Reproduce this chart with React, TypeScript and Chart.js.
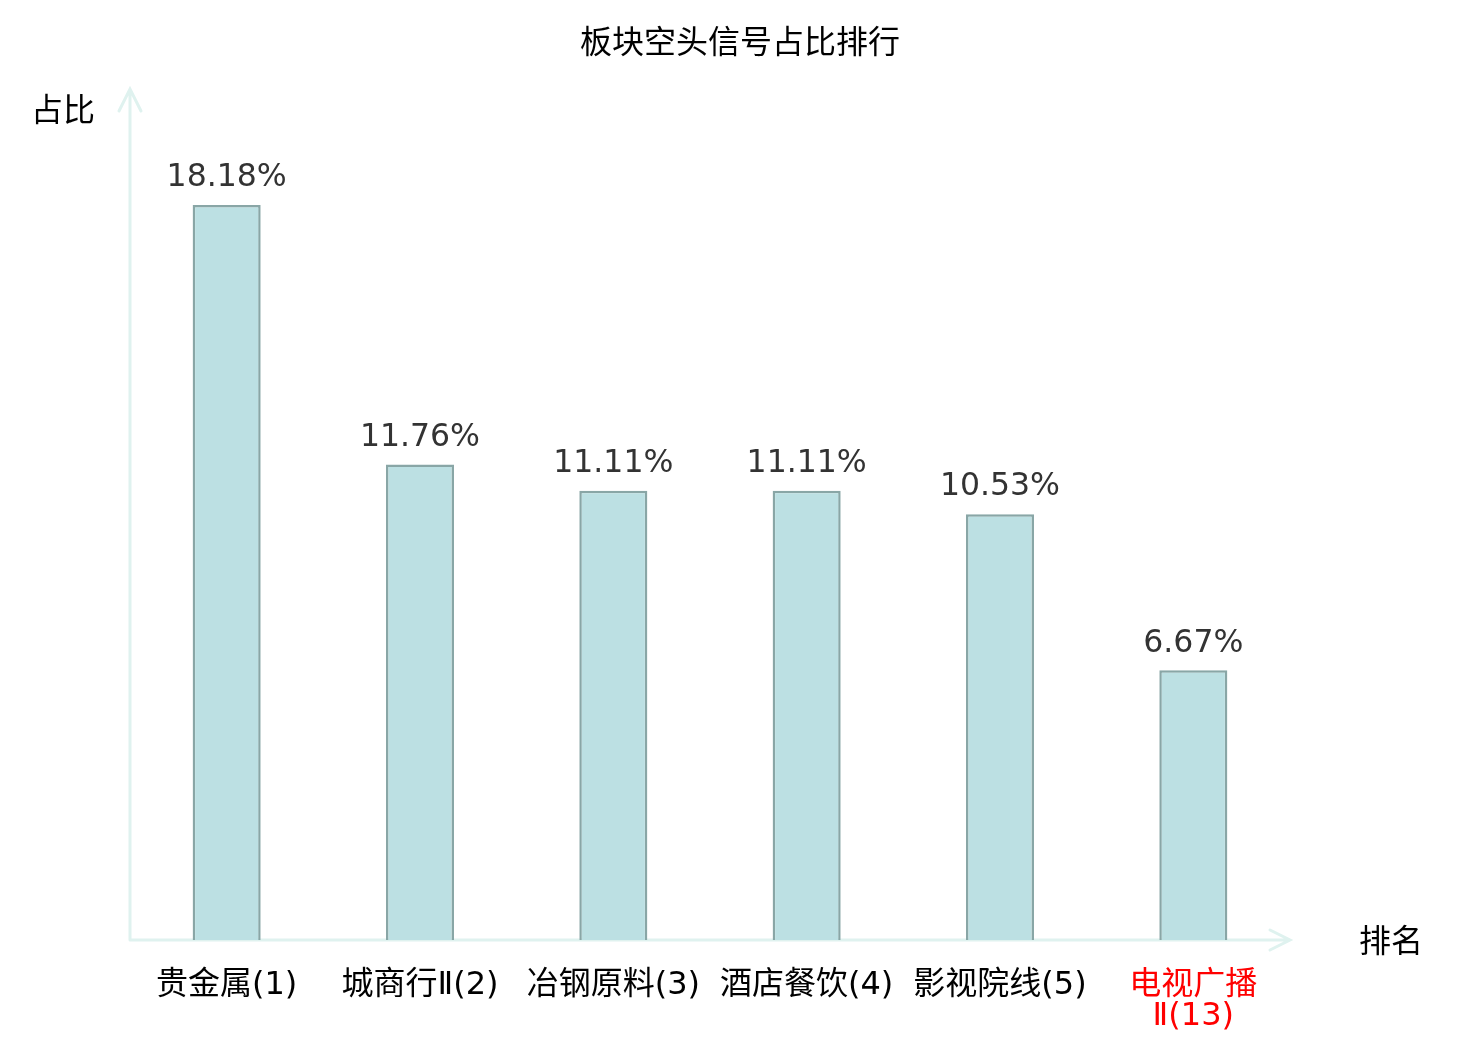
import { useEffect, useRef } from "react"
import { Chart, registerables } from "chart.js"

Chart.register(...registerables)

const categories: (string | string[])[] = [
  "贵金属(1)",
  "城商行Ⅱ(2)",
  "冶钢原料(3)",
  "酒店餐饮(4)",
  "影视院线(5)",
  ["电视广播", "Ⅱ(13)"],
]
const shares = [18.18, 11.76, 11.11, 11.11, 10.53, 6.67]
const labelColors = ["#000000", "#000000", "#000000", "#000000", "#000000", "#ff0000"]

const FONT = "'DejaVu Sans', 'Noto Sans CJK SC', sans-serif"
const AXIS = "#dff2ef"

const decorPlugin = {
  id: "decor",
  beforeDatasetsDraw(chart: any) {
    const { ctx, chartArea } = chart
    const { left, right, top, bottom } = chartArea
    ctx.save()
    ctx.strokeStyle = AXIS
    ctx.lineWidth = 3
    ctx.lineCap = "round"
    // y axis with arrow
    ctx.beginPath()
    ctx.moveTo(left, bottom)
    ctx.lineTo(left, top - 2)
    ctx.moveTo(left - 11, top + 20)
    ctx.lineTo(left, top - 2)
    ctx.lineTo(left + 11, top + 20)
    // x axis with arrow
    ctx.moveTo(left, bottom)
    ctx.lineTo(right, bottom)
    ctx.moveTo(right - 20, bottom - 10)
    ctx.lineTo(right, bottom)
    ctx.lineTo(right - 20, bottom + 10)
    ctx.stroke()
    ctx.restore()
  },
  afterDatasetsDraw(chart: any) {
    const { ctx } = chart
    ctx.save()
    ctx.textAlign = "center"
    ctx.textBaseline = "middle"

    ctx.fillStyle = "#000"
    ctx.font = `32px ${FONT}`
    ctx.fillText("板块空头信号占比排行", chart.width / 2, 45)
    ctx.fillText("占比", 63, 113)
    ctx.fillText("排名", 1391, 944)

    ctx.fillStyle = "#333333"
    ctx.font = `31.5px ${FONT}`
    const meta = chart.getDatasetMeta(0)
    meta.data.forEach((bar: any, i: number) => {
      ctx.fillText(shares[i].toFixed(2) + "%", bar.x, bar.y - 27)
    })
    ctx.restore()
  },
}

function BarChart() {
  const canvasRef = useRef<HTMLCanvasElement>(null)
  const chartRef = useRef<Chart | null>(null)

  useEffect(() => {
    document.body.style.margin = "0"
    if (!canvasRef.current) return
    if (chartRef.current) chartRef.current.destroy()
    const ctx = canvasRef.current.getContext("2d")
    if (!ctx) return

    chartRef.current = new Chart(ctx, {
      type: "bar",
      data: {
        labels: categories,
        datasets: [
          {
            label: "占比",
            data: shares,
            backgroundColor: "#bce0e3",
            borderColor: "#89a6a6",
            borderWidth: 2.5,
            barPercentage: 0.352,
            categoryPercentage: 1,
          },
        ],
      },
      options: {
        responsive: true,
        maintainAspectRatio: false,
        animation: false,
        layout: { padding: { left: 130, right: 190, top: 91, bottom: 0 } },
        plugins: {
          legend: { display: false },
          tooltip: { enabled: false },
          title: { display: false },
        },
        scales: {
          x: {
            grid: { display: false, drawTicks: false },
            border: { display: false },
            afterFit: (scale: any) => {
              scale.height = 100
            },
            ticks: {
              padding: 30,
              color: labelColors,
              maxRotation: 0,
              autoSkip: false,
              font: { family: FONT, size: 32, lineHeight: 0.98 },
            },
          },
          y: {
            display: false,
            min: 0,
            max: 21,
          },
        },
      },
      plugins: [decorPlugin],
    })

    return () => {
      if (chartRef.current) {
        chartRef.current.destroy()
        chartRef.current = null
      }
    }
  }, [])

  return <canvas ref={canvasRef} />
}

export default function App() {
  return (
    <div style={{ position: "relative", width: 1480, height: 1040, background: "#fff" }}>
      <BarChart />
    </div>
  )
}
